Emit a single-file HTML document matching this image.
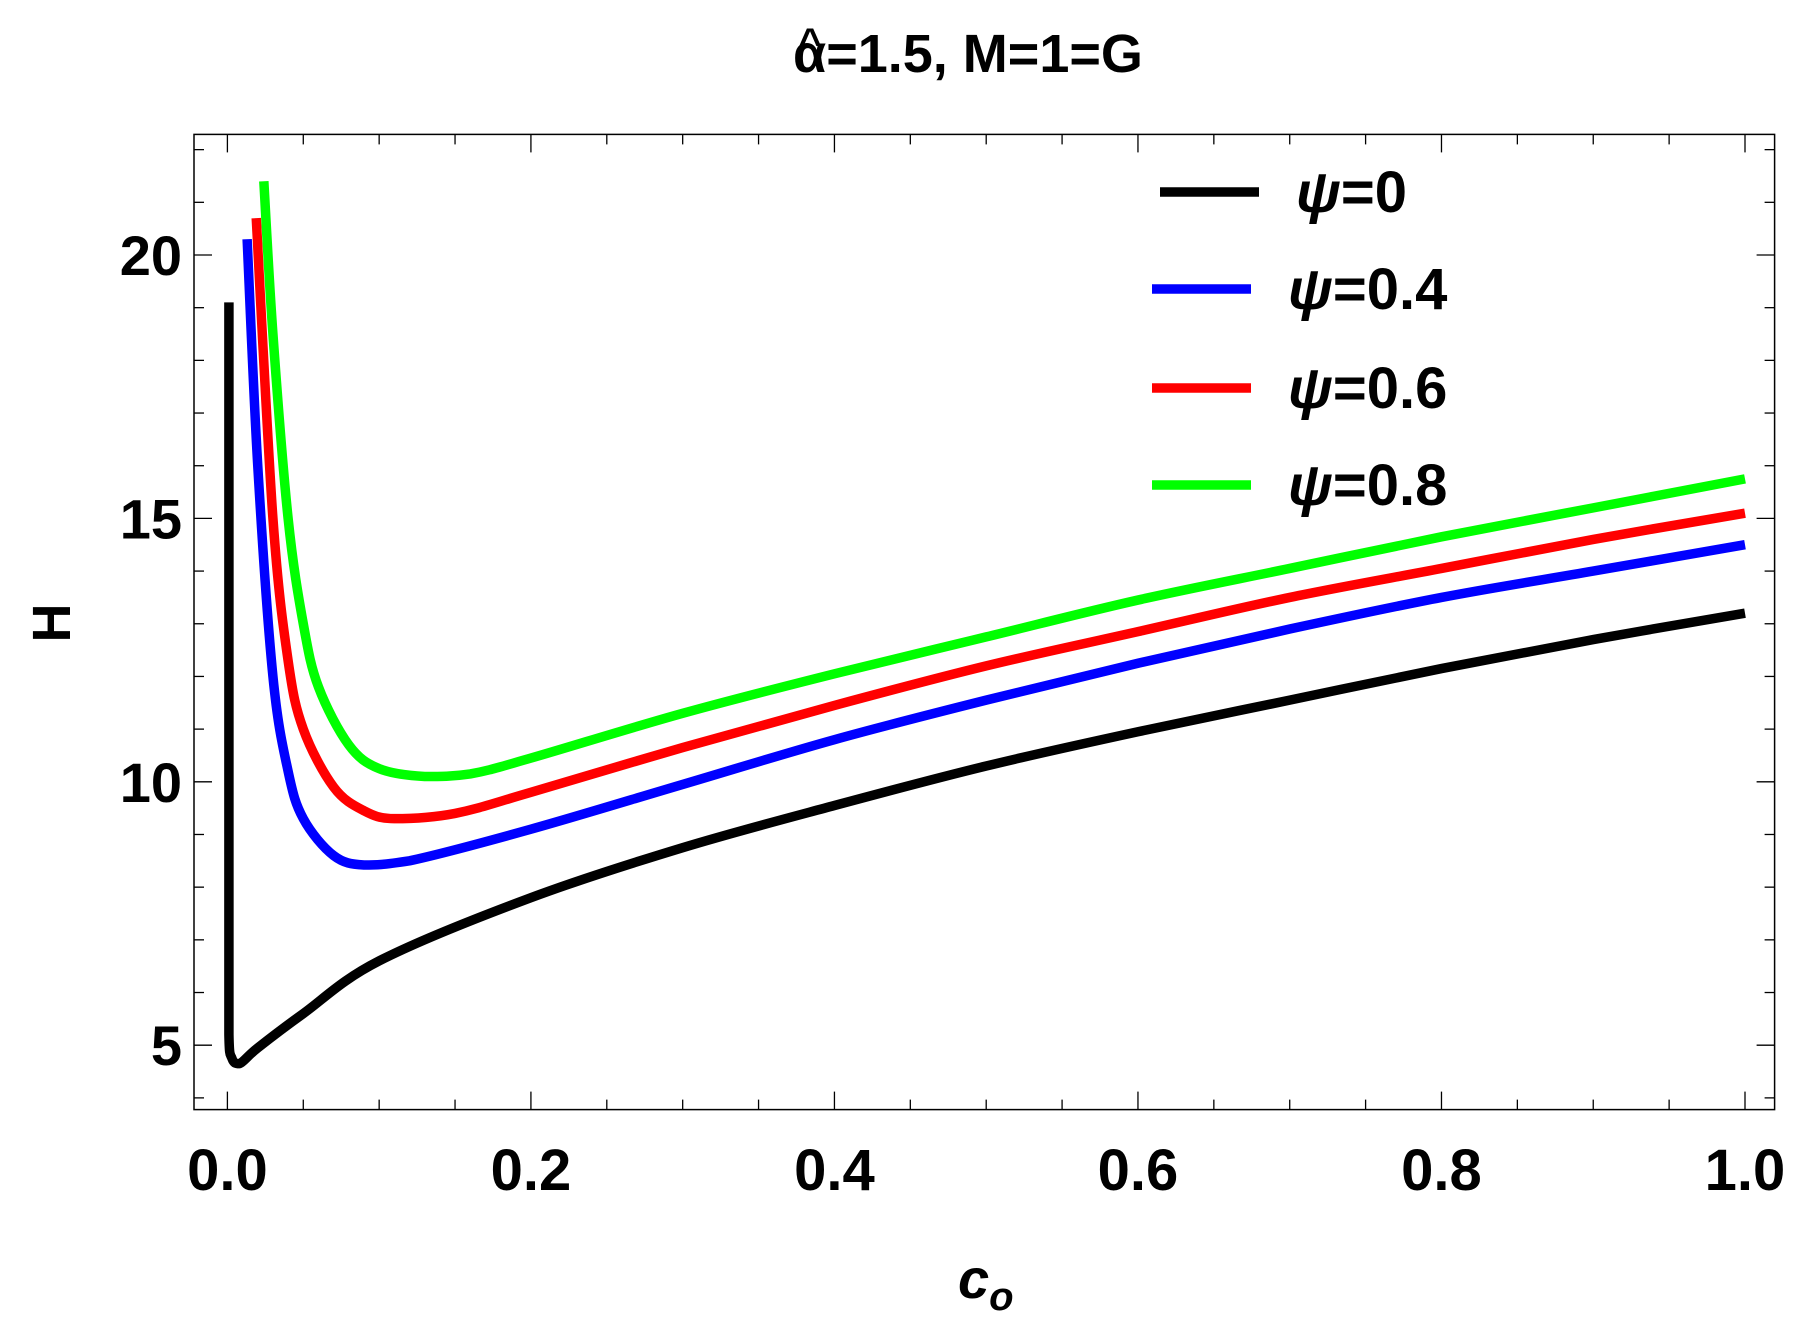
<!DOCTYPE html>
<html><head><meta charset="utf-8"><style>
body{margin:0;background:#fff}
svg text{font-family:"Liberation Sans",sans-serif;font-weight:bold}
</style></head><body>
<svg id="chart" width="1801" height="1328" viewBox="0 0 1801 1328" xmlns="http://www.w3.org/2000/svg">
<text x="793" y="72" font-size="54">α=1.5, M=1=G</text>
<text x="810" y="56" font-size="40" text-anchor="middle">^</text>
<g id="ticks"></g>
<g id="series"></g>
<rect x="194" y="134.4" width="1580.6" height="975.2" fill="none" stroke="#000" stroke-width="1.5"/>
<text transform="translate(70,623) rotate(-90)" font-size="54" text-anchor="middle">H</text>
<text x="958" y="1298" font-size="56" font-style="italic">c<tspan font-size="40" dy="12">o</tspan></text>
<g id="legend"></g>
</svg>
<script>
const xTicks=[0,0.2,0.4,0.6,0.8,1.0];
const xTickLabels=["0.0","0.2","0.4","0.6","0.8","1.0"];
const yTicks=[5,10,15,20];
const yTickLabels=["5","10","15","20"];
const seriesNames=["ψ=0","ψ=0.4","ψ=0.6","ψ=0.8"];
const seriesColors=["#000000","#0000ff","#ff0000","#00ff00"];
const xBlack=[0.001,0.001,0.003,0.008,0.02,0.05,0.1,0.2,0.3,0.4,0.5,0.6,0.7,0.8,0.9,1.0];
const yBlack=[19.1,5.2,4.75,4.65,4.95,5.6,6.6,7.8,8.75,9.55,10.3,10.95,11.55,12.15,12.7,13.2];
const xBlue=[0.013,0.02,0.03,0.04,0.05,0.07,0.09,0.12,0.2,0.3,0.4,0.5,0.6,0.7,0.8,0.9,1.0];
const yBlue=[20.3,16,12,10.2,9.3,8.6,8.42,8.5,9.1,9.95,10.8,11.55,12.25,12.9,13.5,14.0,14.5];
const xRed=[0.019,0.03,0.04,0.05,0.07,0.09,0.11,0.15,0.2,0.3,0.4,0.5,0.6,0.7,0.8,0.9,1.0];
const yRed=[20.7,15,12.3,11,9.9,9.45,9.3,9.4,9.8,10.65,11.45,12.2,12.85,13.5,14.05,14.6,15.1];
const xGreen=[0.024,0.03,0.04,0.05,0.06,0.08,0.1,0.13,0.16,0.2,0.3,0.4,0.5,0.6,0.7,0.8,0.9,1.0];
const yGreen=[21.4,18.5,15,13,11.8,10.7,10.25,10.1,10.15,10.45,11.3,12.05,12.75,13.45,14.05,14.65,15.2,15.75];

const NS="http://www.w3.org/2000/svg";
function X(v){return 227.4+v*1517.6;}
function Y(v){return 1045.2-(v-5)*52.68;}
function mk(tag,attrs,parent){const e=document.createElementNS(NS,tag);for(const k in attrs)e.setAttribute(k,attrs[k]);parent.appendChild(e);return e;}
const tg=document.getElementById('ticks');
for(let i=0;i<=20;i++){const v=i*0.05;const x=X(v);const major=i%4===0;const L=major?18:10;
 const t1=mk('line',{x1:x,x2:x,y1:1109.6,y2:1109.6-L,stroke:'#000','stroke-width':1.3},tg);
 
 
 const t2=mk('line',{x1:x,x2:x,y1:134.4,y2:134.4+L,stroke:'#000','stroke-width':1.3},tg);
 
 }
xTicks.forEach((v,i)=>{const t=mk('text',{x:X(v),y:1190,'font-size':58,'text-anchor':'middle'},tg);t.textContent=xTickLabels[i];
 
 });
for(let v=4;v<=22;v++){const y=Y(v);const major=v%5===0;const L=major?18:10;
 const t1=mk('line',{x1:194,x2:194+L,y1:y,y2:y,stroke:'#000','stroke-width':1.3},tg);
 
 
 const t2=mk('line',{x1:1774.6,x2:1774.6-L,y1:y,y2:y,stroke:'#000','stroke-width':1.3},tg);
 
 }
yTicks.forEach((v,i)=>{const t=mk('text',{x:182,y:Y(v)+20,'font-size':56,'text-anchor':'end'},tg);t.textContent=yTickLabels[i];
 
 });
function clamp(v,a,b){const lo=Math.min(a,b),hi=Math.max(a,b);return Math.max(lo,Math.min(hi,v));}
function pathFor(xs,ys){const p=xs.map((x,i)=>[X(x),Y(ys[i])]);let d='M'+p[0][0]+','+p[0][1];
 for(let i=0;i<p.length-1;i++){const p0=p[Math.max(0,i-1)],p1=p[i],p2=p[i+1],p3=p[Math.min(p.length-1,i+2)];
  let c1=[p1[0]+(p2[0]-p0[0])/6,p1[1]+(p2[1]-p0[1])/6],c2=[p2[0]-(p3[0]-p1[0])/6,p2[1]-(p3[1]-p1[1])/6];
  c1=[clamp(c1[0],p1[0],p2[0]),clamp(c1[1],p1[1],p2[1])];c2=[clamp(c2[0],p1[0],p2[0]),clamp(c2[1],p1[1],p2[1])];
  d+=' C'+c1[0]+','+c1[1]+' '+c2[0]+','+c2[1]+' '+p2[0]+','+p2[1];}
 return d;}
const sg=document.getElementById('series');
const allX=[xBlack,xBlue,xRed,xGreen],allY=[yBlack,yBlue,yRed,yGreen],keys=['black','blue','red','green'];
allX.forEach((xs,i)=>{const e=mk('path',{d:pathFor(xs,allY[i]),fill:'none',stroke:seriesColors[i],'stroke-width':9.5,'stroke-linejoin':'round'},sg);
 
 });
const lg=document.getElementById('legend');
const ly=[192,289,388,485];
seriesNames.forEach((n,i)=>{const lx=i===0?1160:1152;
 const l=mk('line',{x1:lx,x2:lx+99,y1:ly[i],y2:ly[i],stroke:seriesColors[i],'stroke-width':9.5},lg);
 
 
 const t=mk('text',{x:i===0?1296:1288,y:ly[i]+20,'font-size':58},lg);
 t.innerHTML='<tspan font-style="italic">ψ</tspan>'+n.slice(1);
 
 });
</script>
</body></html>
